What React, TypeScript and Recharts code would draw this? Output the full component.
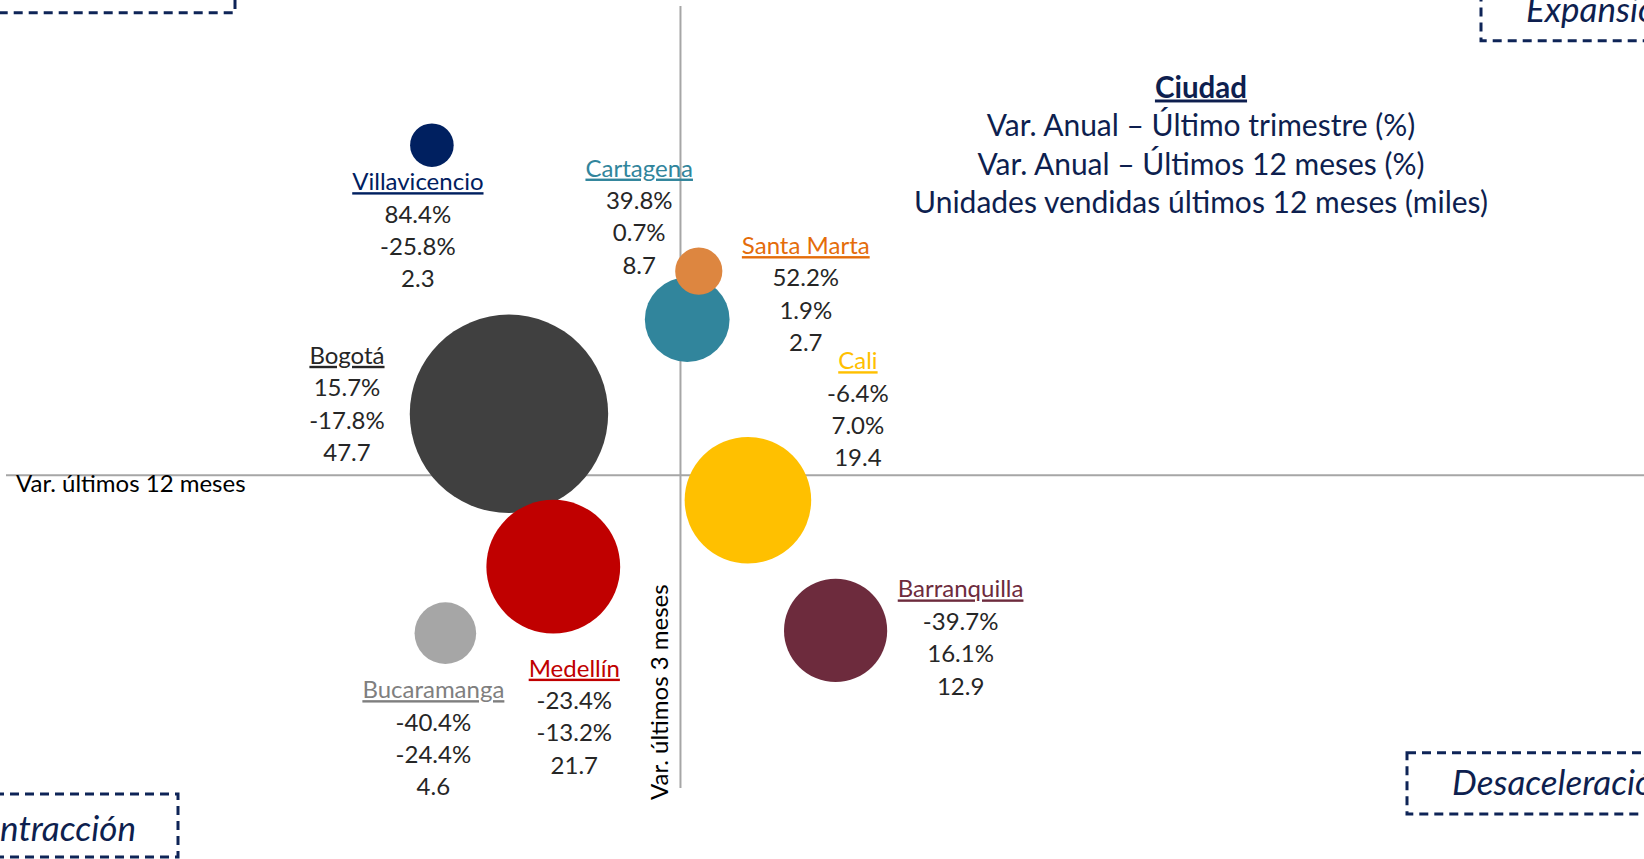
import { ScatterChart, Scatter, XAxis, YAxis, ZAxis, ReferenceLine, LabelList } from "recharts";

// Datos por ciudad (ordenados de mayor a menor burbuja)
const ciudades = ["Bogotá", "Medellín", "Cali", "Barranquilla", "Cartagena", "Bucaramanga", "Santa Marta", "Villavicencio"];
const varUltimoTrimestre = [15.7, -23.4, -6.4, -39.7, 39.8, -40.4, 52.2, 84.4];
const varUltimos12Meses = [-17.8, -13.2, 7.0, 16.1, 0.7, -24.4, 1.9, -25.8];
const unidadesMiles = [47.7, 21.7, 19.4, 12.9, 8.7, 4.6, 2.7, 2.3];

const leyendaTitulo = "Ciudad";
const leyendaLineas = [
  "Var. Anual – Último trimestre (%)",
  "Var. Anual – Últimos 12 meses (%)",
  "Unidades vendidas últimos 12 meses (miles)",
];

const tituloX = "Var. últimos 12 meses";
const tituloY = "Var. últimos 3 meses";

// colores y posición de la etiqueta respecto al centro de la burbuja
const estilos: Record<string, { bubble: string; text: string; dx: number; dy: number }> = {
  "Bogotá": { bubble: "#404040", text: "#262626", dx: -162, dy: -50 },
  "Medellín": { bubble: "#C00000", text: "#C00000", dx: 21, dy: 110 },
  "Cali": { bubble: "#FFC000", text: "#FFC000", dx: 110, dy: -131 },
  "Barranquilla": { bubble: "#6D2B3D", text: "#6D2B3D", dx: 125, dy: -33 },
  "Cartagena": { bubble: "#31859C", text: "#31859C", dx: -48, dy: -143 },
  "Bucaramanga": { bubble: "#A6A6A6", text: "#7F7F7F", dx: -12, dy: 65 },
  "Santa Marta": { bubble: "#DD8640", text: "#E46C0A", dx: 107, dy: -17 },
  "Villavicencio": { bubble: "#002060", text: "#002060", dx: -14, dy: 45 },
};

const data = ciudades.map((name, i) => ({
  name,
  x: varUltimos12Meses[i],
  y: varUltimoTrimestre[i],
  z: unidadesMiles[i],
}));

const NAVY = "#0E1F4F";
const FONT = 24;
const LINE = 32.4;

const fmtPct = (v: number) => `${v.toFixed(1)}%`;

const Bubble = (props: any) => {
  const r = props.width ? props.width / 2 : Math.sqrt(props.size / Math.PI);
  const name = props.payload?.name ?? props.name;
  return <circle cx={props.cx} cy={props.cy} r={r} fill={estilos[name]?.bubble ?? "#999"} />;
};

const CityLabel = (props: any) => {
  const vb = props.viewBox ?? props;
  const d = data.find((e) => e.name === props.value) ?? data[props.index];
  if (!d) return null;
  const s = estilos[d.name];
  const lx = vb.x + vb.width / 2 + s.dx;
  const ly = vb.y + vb.height / 2 + s.dy;
  const lines = [fmtPct(d.y), fmtPct(d.x), d.z.toFixed(1)];
  return (
    <g>
      <text x={lx} y={ly} textAnchor="middle" fill={s.text} fontSize={FONT} textDecoration="underline">
        {d.name}
      </text>
      {lines.map((t, k) => (
        <text key={k} x={lx} y={ly + (k + 1) * LINE} textAnchor="middle" fill="#262626" fontSize={FONT}>
          {t}
        </text>
      ))}
    </g>
  );
};

const TituloX = (props: any) => {
  const vb = props.viewBox;
  return (
    <text x={vb.x + 10} y={vb.y + 16.5} fill="#000" fontSize={FONT}>
      {tituloX}
    </text>
  );
};

const TituloY = (props: any) => {
  const vb = props.viewBox;
  const x = vb.x - 12.5;
  const y = vb.y + vb.height + 12;
  return (
    <text x={x} y={y} fill="#000" fontSize={FONT} textAnchor="start" transform={`rotate(-90, ${x}, ${y})`}>
      {tituloY}
    </text>
  );
};

// recuadros punteados de los cuadrantes
const Cuadrantes = () => (
  <svg
    width={1644}
    height={859}
    style={{ position: "absolute", left: 0, top: 0, pointerEvents: "none" }}
  >
    <g fill="none" stroke="#0E2457" strokeWidth={3} strokeDasharray="9 6">
      <rect x={-300} y={-50} width={535} height={62.7} />
      <rect x={1481} y={-20} width={400} height={60.7} />
      <rect x={1407} y={752.7} width={400} height={61.3} />
      <rect x={-200} y={794} width={378} height={63} />
    </g>
    <g fill={NAVY} fontStyle="italic" fontSize={35}>
      <text x={1526} y={22}>Expansión</text>
      <text x={1452} y={795}>Desaceleración</text>
      <text x={136} y={841} textAnchor="end">Contracción</text>
    </g>
    <g fill={NAVY} textAnchor="middle">
      <text x={1201} y={97.5} fontSize={29.5} fontWeight="bold" textDecoration="underline">
        {leyendaTitulo}
      </text>
      {leyendaLineas.map((t, k) => (
        <text key={k} x={1201} y={136 + k * 38.5} fontSize={30}>
          {t}
        </text>
      ))}
    </g>
  </svg>
);

export default function App() {
  return (
    <div
      style={{
        position: "absolute",
        left: 0,
        top: 0,
        width: 1644,
        height: 859,
        background: "#fff",
        fontFamily: "Lato, 'Open Sans', sans-serif",
        overflow: "hidden",
      }}
    >
      <ScatterChart width={1644} height={859} margin={{ top: 6, right: 0, bottom: 71, left: 6 }}>
        <XAxis type="number" dataKey="x" domain={[-70, 100]} hide />
        <YAxis type="number" dataKey="y" domain={[-80, 120]} hide />
        <ZAxis type="number" dataKey="z" domain={[0, 47.7]} range={[0, 30915]} />
        <ReferenceLine y={0} stroke="#A6A6A6" strokeWidth={2} label={TituloX} />
        <ReferenceLine x={0} stroke="#A6A6A6" strokeWidth={2} label={TituloY} />
        <Scatter data={data} shape={Bubble} isAnimationActive={false}>
          <LabelList dataKey="name" content={CityLabel} />
        </Scatter>
      </ScatterChart>
      <Cuadrantes />
    </div>
  );
}
